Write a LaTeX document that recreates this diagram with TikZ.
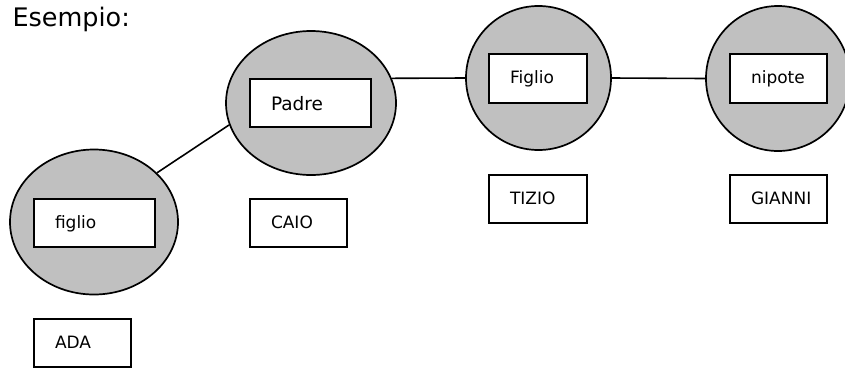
\documentclass[tikz,border=0pt]{standalone}
\usepackage{fontspec}
\setmainfont{DejaVu Sans}
\usetikzlibrary{shapes.geometric}
\definecolor{bubble}{HTML}{C0C0C0}
\tikzset{
  bubble/.style={ellipse, draw=black, fill=bubble, line width=1.7pt, inner sep=0pt},
  namebox/.style n args={2}{rectangle, draw=black, fill=white, line width=1.8pt,
    minimum width=#1, minimum height=#2, inner xsep=21pt, inner ysep=0pt,
    text width=#1-42pt, align=left, text height=10pt, text depth=0pt,
    font=\fontsize{17}{17}\selectfont},
  link/.style={draw=black, line width=1.6pt},
}
\begin{document}
\begin{tikzpicture}[x=1pt, y=-1pt]
  \useasboundingbox (0,0) rectangle (845,368);

  \node[anchor=base west, font=\fontsize{25.5}{25.5}\selectfont] (title) at (9,26) {Esempio:};

  % role bubbles
  \node[bubble, minimum width=168pt, minimum height=145pt] (e1) at (94,222) {};
  \node[bubble, minimum width=170pt, minimum height=144pt] (e2) at (311,103) {};
  \node[bubble, minimum width=145pt, minimum height=144pt] (e3) at (538.5,78) {};
  \node[bubble, minimum width=144pt, minimum height=145pt] (e4) at (778,78.5) {};

  % connectors between the bubbles
  \draw[link] (e1.38.8) -- (e2.195.9);
  \draw[link] (e2.17.4) -- (e3.west);
  \draw[link] (e3.east) -- (e4.west);

  % role labels inside the bubbles
  \node[namebox={121pt}{48pt}] (figlio) at (94.5,223) {figlio};
  \node[namebox={121pt}{48pt}, text height=14pt,
        font=\fontsize{18.5}{18.5}\selectfont] (padre) at (310.5,103) {Padre};
  \node[namebox={98pt}{49pt}] (figlio2) at (538,78.5) {Figlio};
  \node[namebox={97pt}{49pt}] (nipote) at (778.5,78.5) {nipote};

  % person names
  \node[namebox={97pt}{48pt}] (ada) at (82.5,343) {ADA};
  \node[namebox={97pt}{48pt}] (caio) at (298.5,223) {CAIO};
  \node[namebox={98pt}{48pt}] (tizio) at (538,199) {TIZIO};
  \node[namebox={97pt}{48pt}] (gianni) at (778.5,199) {GIANNI};
\end{tikzpicture}
\end{document}
